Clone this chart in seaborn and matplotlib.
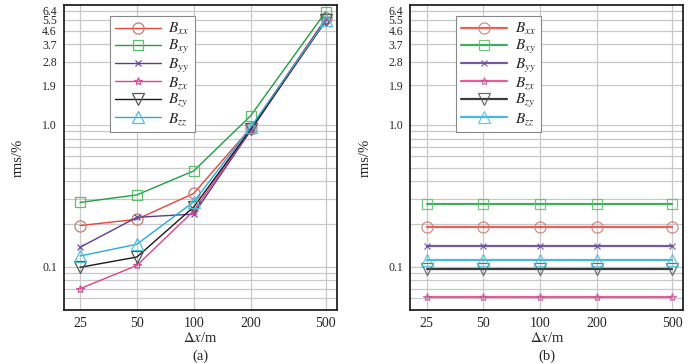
import numpy as np
import pandas as pd
import matplotlib
matplotlib.use("Agg")
import matplotlib.pyplot as plt
from matplotlib.ticker import FixedLocator, NullLocator, NullFormatter
import seaborn as sns

dx = [25, 50, 100, 200, 500]
names = ["xx", "xy", "yy", "zx", "zy", "zz"]

# (a) rms error vs grid step
rms_a = {
    "xx": [0.195, 0.216, 0.329, 0.95, 5.65],
    "xy": [0.284, 0.321, 0.474, 1.16, 6.3],
    "yy": [0.137, 0.223, 0.235, 0.91, 5.56],
    "zx": [0.070, 0.102, 0.248, 0.93, 5.4],
    "zy": [0.099, 0.117, 0.264, 0.93, 5.45],
    "zz": [0.119, 0.144, 0.287, 0.96, 5.47],
}
# (b) constant levels
rms_b = {
    "xx": [0.191] * 5,
    "xy": [0.275] * 5,
    "yy": [0.141] * 5,
    "zx": [0.061] * 5,
    "zy": [0.096] * 5,
    "zz": [0.112] * 5,
}

ytick_vals = [0.1, 1.0, 1.9, 2.8, 3.7, 4.6, 5.5, 6.4]
ytick_labels = ["0.1", "1.0", "1.9", "2.8", "3.7", "4.6", "5.5", "6.4"]
yminor = [0.06, 0.07, 0.08, 0.09, 0.2, 0.3, 0.4, 0.5, 0.6, 0.7, 0.8, 0.9]

line_colors = ["#e8453c", "#1f9e44", "#5a3d8e", "#e2418a", "#1a1a1a", "#2aa9df"]
mk_colors = ["#c97a74", "#5cbf6c", "#6a4fa0", "#d2559a", "#555555", "#4cc0d8"]
markers = ["o", "s", "x", "*", "v", "^"]
msizes = [8, 7.5, 5, 6, 8.5, 8.5]

sns.set_style("white")
plt.rcParams["font.family"] = ["Liberation Serif", "DejaVu Serif"]
plt.rcParams["mathtext.fontset"] = "stix"

fig, axes = plt.subplots(1, 2, figsize=(7, 3.63), dpi=100)
fig.subplots_adjust(left=0.091, right=0.976, top=0.986, bottom=0.146, wspace=0.27)


def draw(ax, data, lw, alpha):
    for i, n in enumerate(names):
        df = pd.DataFrame({"dx": dx, "rms": data[n]})
        sns.lineplot(data=df, x="dx", y="rms", ax=ax, color=line_colors[i], lw=lw,
                     alpha=alpha, marker=markers[i], markersize=msizes[i],
                     markerfacecolor="none", markeredgecolor=mk_colors[i],
                     markeredgewidth=0.9, label=r"$B_{%s}$" % n)
    ax.set_xscale("log")
    ax.set_yscale("log")
    ax.set_xlim(20.5, 570)
    ax.set_ylim(0.0495, 7.0)
    ax.xaxis.set_major_locator(FixedLocator(dx))
    ax.set_xticklabels([str(v) for v in dx])
    ax.xaxis.set_minor_locator(NullLocator())
    ax.yaxis.set_major_locator(FixedLocator(ytick_vals))
    ax.set_yticklabels(ytick_labels)
    ax.yaxis.set_minor_locator(FixedLocator(yminor))
    ax.yaxis.set_minor_formatter(NullFormatter())
    ax.grid(True, which="major", color="#c8c8c8", lw=0.9)
    ax.grid(True, which="minor", axis="y", color="#c8c8c8", lw=0.9)
    ax.tick_params(which="both", length=0, labelsize=10, pad=5)
    ax.tick_params(axis="y", labelsize=8.5)
    for s in ax.spines.values():
        s.set_color("#222222")
        s.set_linewidth(1.3)
    ax.set_ylabel("rms/%", fontsize=10.5, labelpad=12)
    ax.set_xlabel(r"$\Delta x$/m", fontsize=10.5, labelpad=1)
    leg = ax.legend(loc="upper left", bbox_to_anchor=(0.14, 0.99), fontsize=11,
                    handlelength=3.0, labelspacing=0.05, borderpad=0.35,
                    fancybox=False, framealpha=1, edgecolor="#888888",
                    handletextpad=0.5)
    leg.get_frame().set_linewidth(0.8)


draw(axes[0], rms_a, 1.0, 1.0)
draw(axes[1], rms_b, 1.6, 0.85)
axes[0].text(0.5, -0.128, "(a)", transform=axes[0].transAxes, ha="center", va="top", fontsize=10.5)
axes[1].text(0.5, -0.128, "(b)", transform=axes[1].transAxes, ha="center", va="top", fontsize=10.5)

fig.savefig("out.png", dpi=100)
